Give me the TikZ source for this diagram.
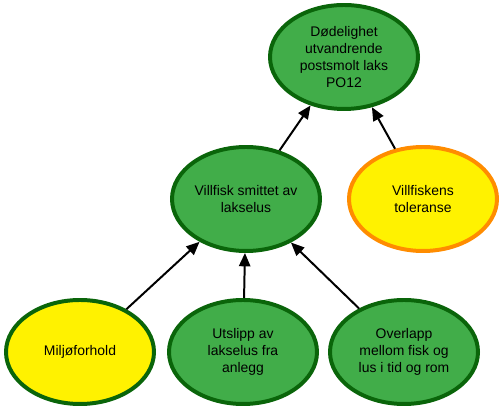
\documentclass[tikz,border=0pt]{standalone}
\usepackage{fontspec}
\setmainfont{Liberation Sans}
\usetikzlibrary{shapes.geometric,arrows.meta}
\definecolor{leafgreen}{HTML}{41AD49}
\definecolor{darkleaf}{HTML}{0A650A}
\definecolor{sunyellow}{HTML}{FFF200}
\definecolor{rimorange}{HTML}{FF8C00}

\begin{document}
\begin{tikzpicture}[
    factor/.style={ellipse, line width=3.4pt, minimum width=4.44cm, minimum height=3.12cm,
        inner sep=0pt, align=center, font=\fontsize{11.9}{14.5}\selectfont},
    greenfactor/.style={factor, draw=darkleaf, fill=leafgreen},
    yellowfactor/.style={factor, draw=darkleaf, fill=sunyellow},
    orangefactor/.style={factor, draw=rimorange, fill=sunyellow},
    influence/.style={line width=1.7pt, -{Triangle[length=0.4cm,width=0.34cm]}}
]
    \useasboundingbox (0,0) rectangle (15.12,12.39);

    % Top level
    \node[greenfactor] (dodelighet) at (10.32,10.68) {Dødelighet\\utvandrende\\postsmolt laks\\PO12};

    % Middle level
    \node[greenfactor] (smittet) at (7.38,6.42) {Villfisk smittet av\\lakselus};
    \node[orangefactor] (toleranse) at (12.69,6.42) {Villfiskens\\toleranse};

    % Bottom level
    \node[yellowfactor] (miljo) at (2.40,1.83) {Miljøforhold};
    \node[greenfactor] (utslipp) at (7.29,1.83) {Utslipp av\\lakselus fra\\anlegg};
    \node[greenfactor] (overlapp) at (12.12,1.83) {Overlapp\\mellom fisk og\\lus i tid og rom};

    \draw[influence] (smittet) -- (dodelighet);
    \draw[influence] (toleranse) -- (dodelighet);
    \draw[influence] (miljo) -- (smittet);
    \draw[influence] (utslipp) -- (smittet);
    \draw[influence] (overlapp) -- (smittet);

\end{tikzpicture}
\end{document}
